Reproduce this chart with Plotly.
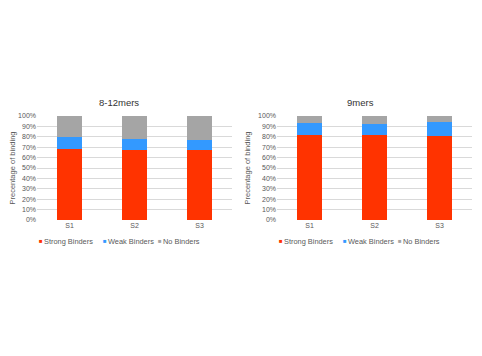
import plotly.graph_objects as go

categories = ["S1", "S2", "S3"]
series_names = ["Strong Binders", "Weak Binders", "No Binders"]
colors = ["#FF3300", "#3399FF", "#A5A5A5"]

# 8-12mers
mers812_strong = [68.5, 67.5, 67.0]
mers812_weak = [11.0, 10.0, 10.0]
mers812_none = [20.5, 22.5, 23.0]

# 9mers
mers9_strong = [82.0, 81.5, 81.0]
mers9_weak = [11.5, 11.0, 13.0]
mers9_none = [6.5, 7.5, 6.0]

y_ticks = list(range(0, 101, 10))
y_ticklabels = [f"{v}%" for v in y_ticks]
y_title = "Precentage of binding"
titles = ["8-12mers", "9mers"]

W, H, OFF = 482, 356, 8  # page body margin shifts the figure by 8px


def px(x):
    return (x - OFF) / W


def py(y):
    return 1 - (y - OFF) / H


fig = go.Figure()
for vals, name, col in zip([mers812_strong, mers812_weak, mers812_none], series_names, colors):
    fig.add_trace(go.Bar(x=categories, y=vals, name=name, marker_color=col, marker_line_width=0,
                         xaxis="x", yaxis="y", width=0.39, showlegend=False))
for vals, name, col in zip([mers9_strong, mers9_weak, mers9_none], series_names, colors):
    fig.add_trace(go.Bar(x=categories, y=vals, name=name, marker_color=col, marker_line_width=0,
                         xaxis="x2", yaxis="y2", width=0.39, showlegend=False))

font = "Liberation Sans, Arial, sans-serif"
txt = "#595959"
yax = dict(range=[0, 100], tickvals=y_ticks, ticktext=y_ticklabels, showgrid=True,
           gridcolor="#D9D9D9", gridwidth=1, zeroline=False, showline=False,
           tickfont=dict(size=7, color=txt), ticks="", ticklen=0, automargin=False,
           title=dict(text=y_title, font=dict(size=7.5, color=txt), standoff=6))
xax = dict(showgrid=False, showline=False, zeroline=False, ticks="", automargin=False,
           tickfont=dict(size=7, color=txt))

annotations = []
chart_x = [(37, 232), (277, 472)]
title_x = [118.5, 360]
for tx, t in zip(title_x, titles):
    annotations.append(dict(text=t, x=px(tx), y=py(103), xref="paper", yref="paper",
                            showarrow=False, font=dict(size=9.5, color="#333333"),
                            xanchor="center", yanchor="middle"))

# legend entries (offsets from plot left edge)
legend_offsets = [0, 64, 119]
leg_y = py(241)
for (x0, x1) in chart_x:
    for off, name, col in zip(legend_offsets, series_names, colors):
        annotations.append(dict(text="■", x=px(x0 + off), y=leg_y, xref="paper", yref="paper",
                                showarrow=False, font=dict(size=6, color=col),
                                xanchor="left", yanchor="middle"))
        annotations.append(dict(text=name, x=px(x0 + off + 5), y=leg_y, xref="paper", yref="paper",
                                showarrow=False, font=dict(size=7.4, color=txt),
                                xanchor="left", yanchor="middle"))

fig.update_layout(
    width=W, height=H,
    margin=dict(l=0, r=0, t=0, b=0),
    paper_bgcolor="white", plot_bgcolor="white",
    barmode="stack",
    font=dict(family=font),
    showlegend=False,
    xaxis=dict(domain=[px(37), px(232)], anchor="y", **xax),
    yaxis=dict(domain=[py(220), py(116)], anchor="x", **yax),
    xaxis2=dict(domain=[px(277), px(472)], anchor="y2", **xax),
    yaxis2=dict(domain=[py(220), py(116)], anchor="x2", **yax),
    annotations=annotations,
)

fig.write_html("out.html")
